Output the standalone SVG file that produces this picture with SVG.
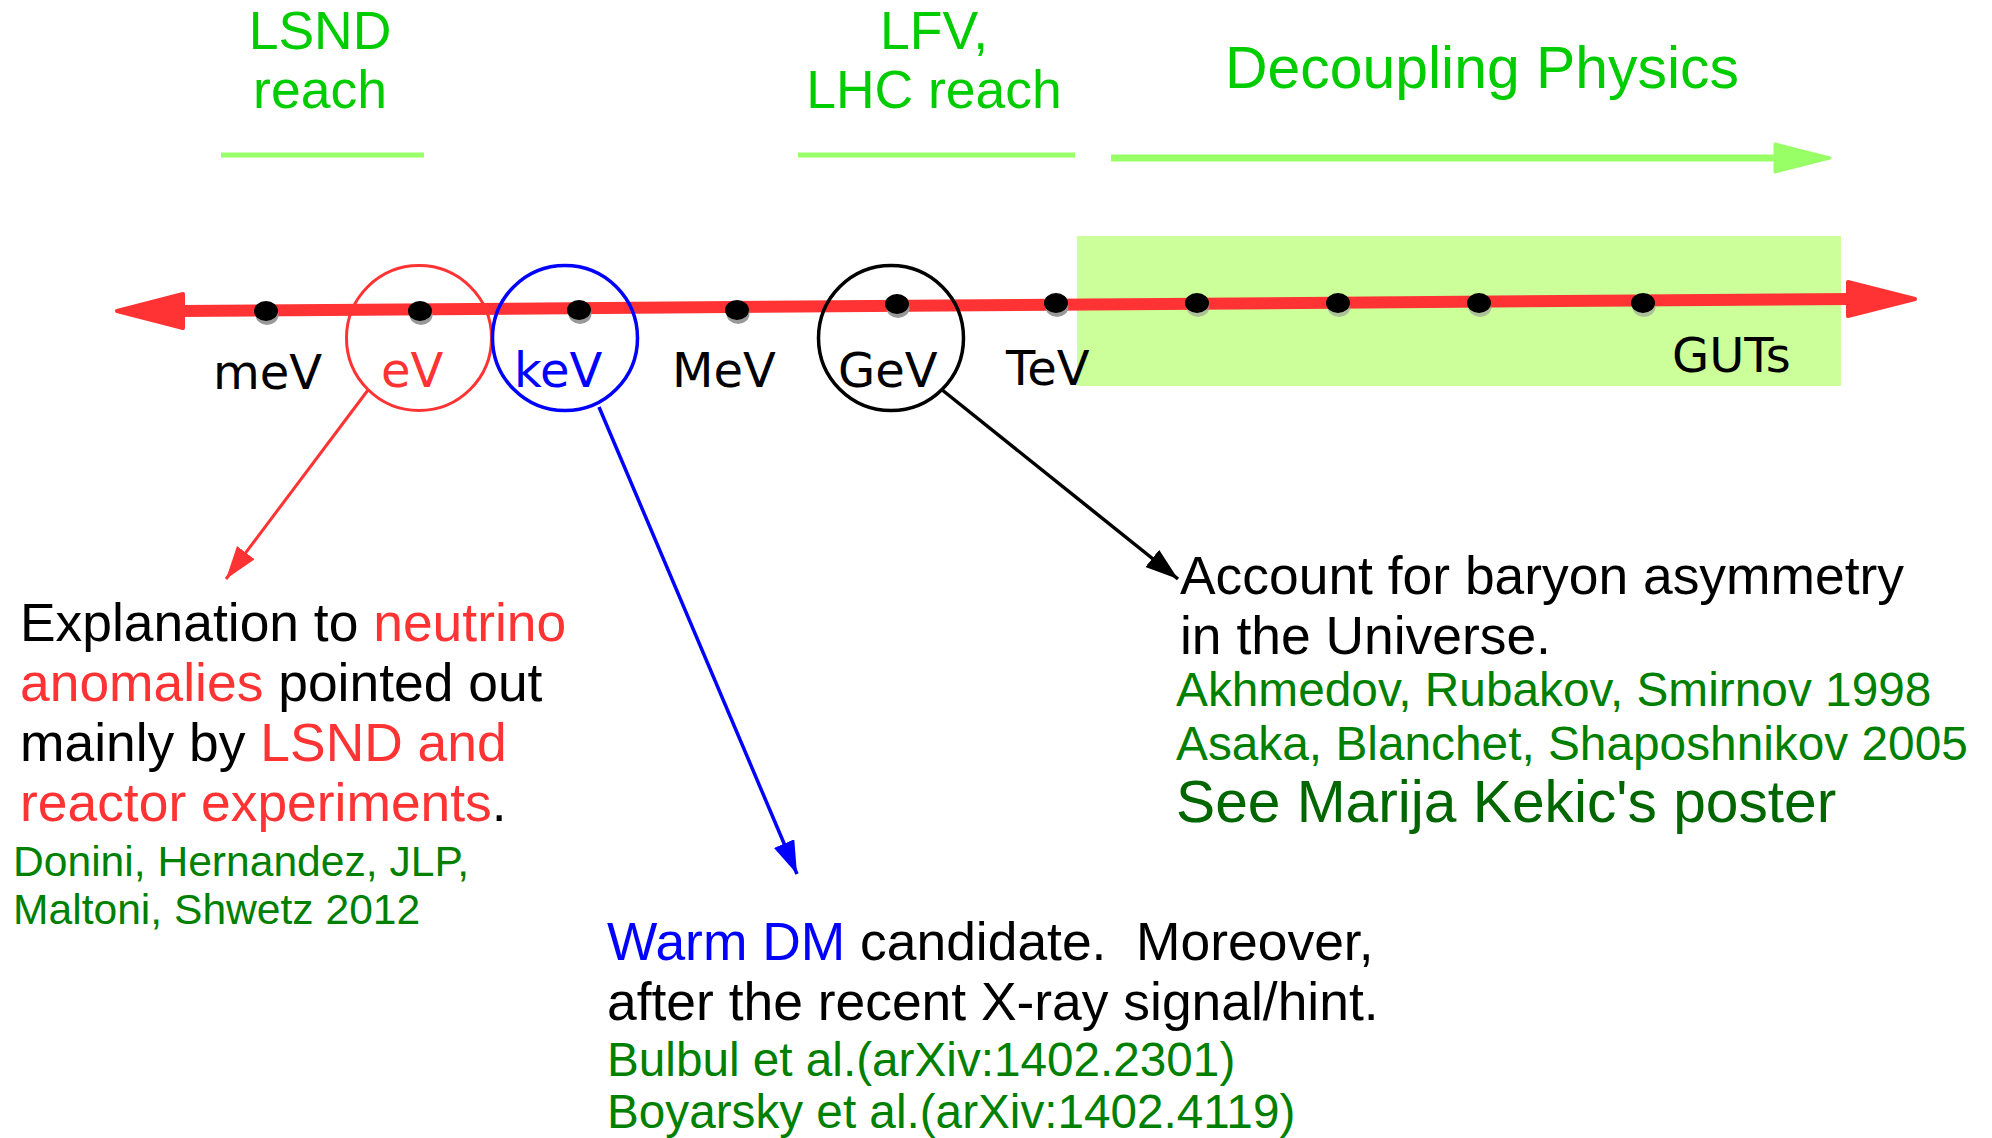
<svg xmlns="http://www.w3.org/2000/svg" width="1992" height="1138" viewBox="0 0 1992 1138">
<style>
text{font-family:"Liberation Sans",Arial,sans-serif}
.title{fill:#00cc00;font-size:53.5px;text-anchor:middle}
.lbl{font-family:"DejaVu Sans",sans-serif;font-size:48px}
.body{font-size:53.4px;fill:#000}
.ref{fill:#008000}
.red{fill:#ff3333}
.blue{fill:#0000ff}
.gline{stroke:#99ff66;stroke-width:5;fill:none}
.dot{fill:#000}
.sh{fill:#999}
</style>
<defs>
<marker id="mr" markerUnits="userSpaceOnUse" markerWidth="34" markerHeight="24" refX="33" refY="11" orient="auto"><path d="M0,0 L33,11 L0,22 z" fill="#ff3333"/></marker>
<marker id="mb" markerUnits="userSpaceOnUse" markerWidth="34" markerHeight="24" refX="33" refY="11" orient="auto"><path d="M0,0 L33,11 L0,22 z" fill="#0000ff"/></marker>
<marker id="mk" markerUnits="userSpaceOnUse" markerWidth="34" markerHeight="24" refX="33" refY="11" orient="auto"><path d="M0,0 L33,11 L0,22 z" fill="#000"/></marker>
</defs>
<rect id="decoupling-region" x="1077" y="236" width="764" height="150" fill="#ccff99"/>
<g id="headers">
<text class="title" x="320" y="49">LSND</text>
<text class="title" x="320" y="108">reach</text>
<line class="gline" x1="221" y1="155" x2="424" y2="155"/>
<text class="title" x="934" y="49">LFV,</text>
<text class="title" x="934" y="108">LHC reach</text>
<line class="gline" x1="798" y1="155" x2="1075" y2="155"/>
<text class="title" x="1482" y="88" style="font-size:58.9px">Decoupling Physics</text>
<line x1="1111" y1="158" x2="1780" y2="158" stroke="#99ff66" stroke-width="7"/>
<path d="M1775,144 L1830,158 L1775,172 z" fill="#99ff66" stroke="#99ff66" stroke-width="3" stroke-linejoin="round"/>
</g>
<g id="axis">
<line x1="180" y1="311" x2="1852" y2="299" stroke="#ff3333" stroke-width="12"/>
<path d="M183,294 L117,311 L183,328 z" fill="#ff3333" stroke="#ff3333" stroke-width="4" stroke-linejoin="round"/>
<path d="M1848,282 L1915,299 L1848,316 z" fill="#ff3333" stroke="#ff3333" stroke-width="4" stroke-linejoin="round"/>
</g>
<g id="dots">
<ellipse class="sh" cx="267" cy="315" rx="11.5" ry="10"/><ellipse class="dot" cx="266" cy="311" rx="12" ry="10"/>
<ellipse class="sh" cx="421" cy="315" rx="11.5" ry="10"/><ellipse class="dot" cx="420" cy="311" rx="12" ry="10"/>
<ellipse class="sh" cx="580" cy="314" rx="11.5" ry="10"/><ellipse class="dot" cx="579" cy="310" rx="12" ry="10"/>
<ellipse class="sh" cx="738" cy="314" rx="11.5" ry="10"/><ellipse class="dot" cx="737" cy="310" rx="12" ry="10"/>
<ellipse class="sh" cx="898" cy="308" rx="11.5" ry="10"/><ellipse class="dot" cx="897" cy="304" rx="12" ry="10"/>
<ellipse class="sh" cx="1057" cy="307" rx="11.5" ry="10"/><ellipse class="dot" cx="1056" cy="303" rx="12" ry="10"/>
<ellipse class="sh" cx="1198" cy="307" rx="11.5" ry="10" fill-opacity="0.6"/><ellipse class="dot" cx="1197" cy="303" rx="12" ry="10"/>
<ellipse class="sh" cx="1339" cy="307" rx="11.5" ry="10" fill-opacity="0.6"/><ellipse class="dot" cx="1338" cy="303" rx="12" ry="10"/>
<ellipse class="sh" cx="1480" cy="307" rx="11.5" ry="10" fill-opacity="0.6"/><ellipse class="dot" cx="1479" cy="303" rx="12" ry="10"/>
<ellipse class="sh" cx="1644" cy="307" rx="11.5" ry="10" fill-opacity="0.6"/><ellipse class="dot" cx="1643" cy="303" rx="12" ry="10"/>
</g>
<g id="scale-labels">
<text class="lbl" x="213" y="389">meV</text>
<text class="lbl red" x="381" y="387">eV</text>
<text class="lbl blue" x="514" y="387">keV</text>
<text class="lbl" x="672" y="387">MeV</text>
<text class="lbl" x="838" y="387">GeV</text>
<text class="lbl" x="1006" y="385">TeV</text>
<text class="lbl" x="1672" y="372">GUTs</text>
</g>
<g id="circle-eV"><circle cx="419" cy="338" r="72.5" fill="none" stroke="#ff3333" stroke-width="3"/></g>
<g id="circle-keV"><circle cx="565" cy="338" r="72.5" fill="none" stroke="#0000ff" stroke-width="3.5"/></g>
<g id="circle-GeV"><circle cx="891" cy="338" r="72.5" fill="none" stroke="#000" stroke-width="3.5"/></g>
<g id="connectors">
<line x1="368" y1="390" x2="226" y2="579" stroke="#ff3333" stroke-width="3" marker-end="url(#mr)"/>
<line x1="599" y1="407" x2="797" y2="874" stroke="#0000ff" stroke-width="3.5" marker-end="url(#mb)"/>
<line x1="941" y1="389" x2="1178" y2="579" stroke="#000" stroke-width="3.5" marker-end="url(#mk)"/>
</g>
<g id="note-eV">
<text class="body" x="20" y="641">Explanation to <tspan class="red">neutrino</tspan></text>
<text class="body" x="20" y="701"><tspan class="red">anomalies</tspan> pointed out</text>
<text class="body" x="20" y="761">mainly by <tspan class="red">LSND and</tspan></text>
<text class="body" x="20" y="821"><tspan class="red">reactor experiments</tspan>.</text>
<text class="ref" x="13" y="876" font-size="42.6">Donini, Hernandez, JLP,</text>
<text class="ref" x="13" y="924" font-size="42.6">Maltoni, Shwetz 2012</text>
</g>
<g id="note-keV">
<text class="body" x="607" y="960" xml:space="preserve"><tspan class="blue">Warm DM</tspan> candidate.  Moreover,</text>
<text class="body" x="607" y="1020">after the recent X-ray signal/hint.</text>
<text class="ref" x="607" y="1076" font-size="47.7">Bulbul et al.(arXiv:1402.2301)</text>
<text class="ref" x="607" y="1128" font-size="47.7">Boyarsky et al.(arXiv:1402.4119)</text>
</g>
<g id="note-GeV">
<text class="body" x="1180" y="594">Account for baryon asymmetry</text>
<text class="body" x="1180" y="654">in the Universe.</text>
<text class="ref" x="1176" y="706" font-size="47.8">Akhmedov, Rubakov, Smirnov 1998</text>
<text class="ref" x="1176" y="760" font-size="47.8">Asaka, Blanchet, Shaposhnikov 2005</text>
<text x="1176" y="822" font-size="58.7" fill="#006600">See Marija Kekic's poster</text>
</g>
</svg>
